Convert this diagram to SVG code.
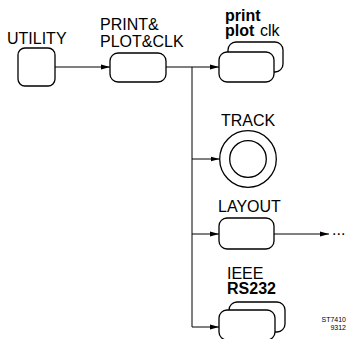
<svg xmlns="http://www.w3.org/2000/svg" width="347" height="339" viewBox="0 0 347 339">
<style>
.t{font-family:"Liberation Sans",Arial,sans-serif;font-size:16px;fill:#000}
.b{font-weight:bold}
.n{fill:#fff;stroke:#000;stroke-width:1.3}
.c{fill:none;stroke:#000;stroke-width:1}
.s{font-family:"Liberation Sans",Arial,sans-serif;font-size:7px;fill:#000}
</style>
<defs>
<marker id="ah" markerWidth="9" markerHeight="6" refX="9" refY="3" orient="auto" markerUnits="userSpaceOnUse">
<path d="M0,0.5 L9,3 L0,5.5 Z" fill="#000"/>
</marker>
</defs>
<g id="connectors">
<line class="c" x1="55" y1="67" x2="110" y2="67" marker-end="url(#ah)"/>
<line class="c" x1="166" y1="67" x2="219" y2="67" marker-end="url(#ah)"/>
<line class="c" x1="192" y1="67" x2="192" y2="327"/>
<line class="c" x1="192" y1="159" x2="219.5" y2="159" marker-end="url(#ah)"/>
<line class="c" x1="192" y1="234" x2="219" y2="234" marker-end="url(#ah)"/>
<line class="c" x1="192" y1="327" x2="219" y2="327" marker-end="url(#ah)"/>
<line class="c" x1="274" y1="234" x2="329" y2="234" marker-end="url(#ah)"/>
</g>
<g id="utility">
<text class="t" x="7" y="44">UTILITY</text>
<rect class="n" x="18" y="48" width="37" height="38" rx="7"/>
</g>
<g id="printplotclk">
<text class="t" x="100" y="30">PRINT&amp;</text>
<text class="t" x="100" y="47">PLOT&amp;CLK</text>
<rect class="n" x="110" y="53" width="56" height="29" rx="8"/>
</g>
<g id="print">
<text class="t b" x="225" y="20.5">print</text>
<text class="t b" x="225" y="35.5">plot</text>
<text class="t" x="260" y="35.5">clk</text>
<rect class="n" x="228" y="42" width="55" height="30" rx="8"/>
<rect class="n" x="219" y="52" width="55" height="30" rx="8"/>
</g>
<g id="track">
<text class="t" x="221" y="126">TRACK</text>
<circle class="n" cx="248" cy="159" r="28.3"/>
<circle class="n" cx="248" cy="159" r="18.3"/>
</g>
<g id="layout">
<text class="t" x="218" y="212">LAYOUT</text>
<rect class="n" x="219" y="218" width="55" height="31" rx="8"/>
<text class="t" x="332" y="235">...</text>
</g>
<g id="ieee">
<text class="t" x="227" y="279">IEEE</text>
<text class="t b" x="227" y="294">RS232</text>
<rect class="n" x="229" y="302" width="56" height="30" rx="8"/>
<rect class="n" x="219" y="310" width="56" height="30" rx="8"/>
</g>
<g id="label">
<text class="s" x="346" y="321.5" text-anchor="end">ST7410</text>
<text class="s" x="346" y="330" text-anchor="end">9312</text>
</g>
</svg>
